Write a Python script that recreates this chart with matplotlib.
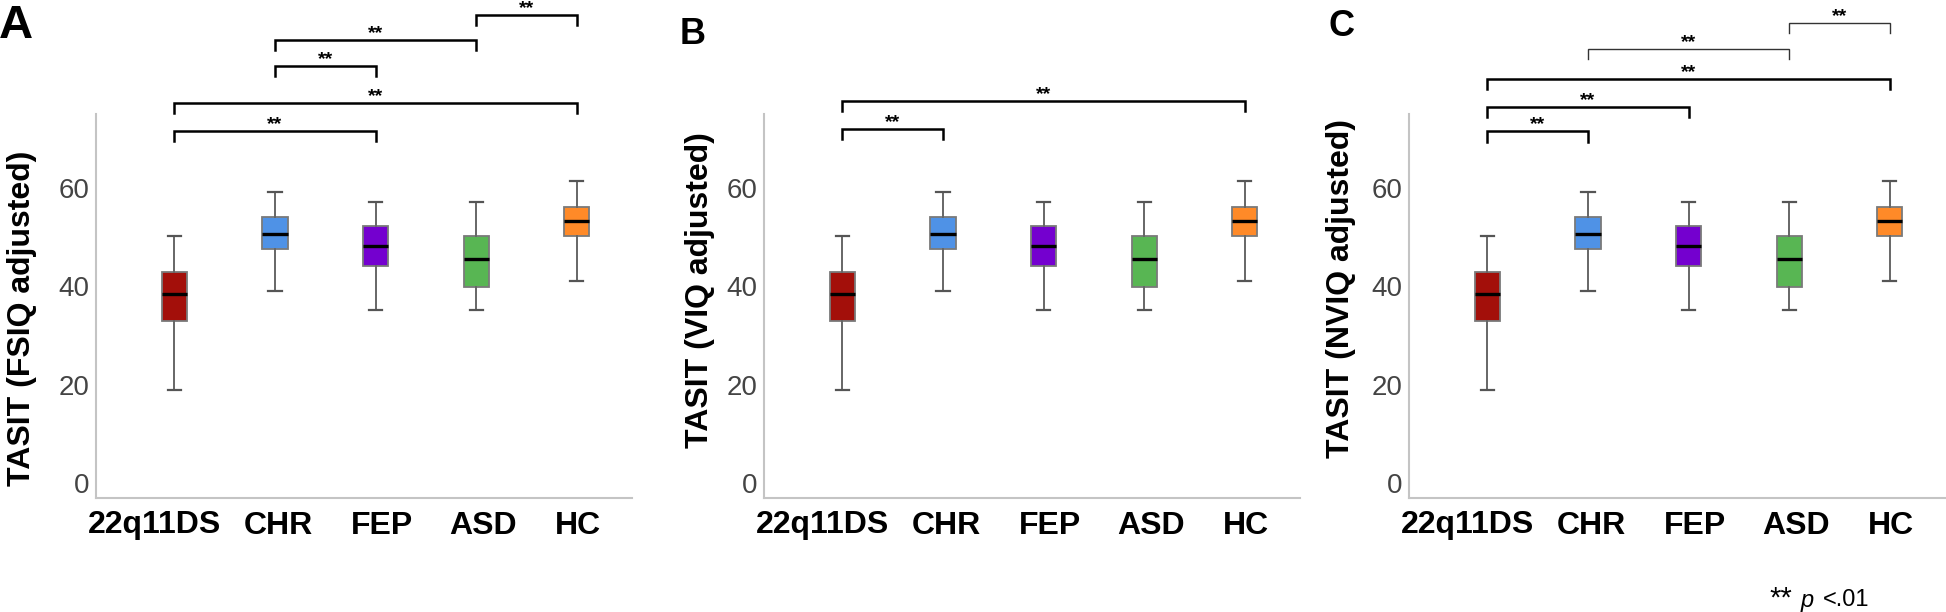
import matplotlib
matplotlib.use('Agg')
import matplotlib.pyplot as plt
from matplotlib.transforms import ScaledTranslation

plt.rcParams['font.family'] = ['Liberation Sans', 'DejaVu Sans']
plt.rcParams['mathtext.fontset'] = 'custom'
plt.rcParams['mathtext.it'] = 'Liberation Sans:italic'
plt.rcParams['mathtext.rm'] = 'Liberation Sans'

W, H = 1946, 612
DPI = 100

groups = ['22q11DS', 'CHR', 'FEP', 'ASD', 'HC']
box_colors = ['#A30F0A', '#4F92E6', '#7400CF', '#58B653', '#FF8A28']
yticks = [0, 20, 40, 60]

# Panel A: TASIT (FSIQ adjusted)
fsiq_whislo = [19.0, 39.0, 35.1, 35.1, 41.0]
fsiq_q1 = [33.0, 47.6, 44.1, 39.9, 50.2]
fsiq_med = [38.5, 50.7, 48.2, 45.6, 53.2]
fsiq_q3 = [43.0, 54.0, 52.2, 50.2, 56.1]
fsiq_whishi = [50.2, 59.1, 57.2, 57.2, 61.3]

# Panel B: TASIT (VIQ adjusted)
viq_whislo = [19.0, 39.0, 35.1, 35.1, 41.0]
viq_q1 = [33.0, 47.6, 44.1, 39.9, 50.2]
viq_med = [38.5, 50.7, 48.2, 45.6, 53.2]
viq_q3 = [43.0, 54.0, 52.2, 50.2, 56.1]
viq_whishi = [50.2, 59.1, 57.2, 57.2, 61.3]

# Panel C: TASIT (NVIQ adjusted)
nviq_whislo = [19.0, 39.0, 35.1, 35.1, 41.0]
nviq_q1 = [33.0, 47.6, 44.1, 39.9, 50.2]
nviq_med = [38.5, 50.7, 48.2, 45.6, 53.2]
nviq_q3 = [43.0, 54.0, 52.2, 50.2, 56.1]
nviq_whishi = [50.2, 59.1, 57.2, 57.2, 61.3]

# significance brackets: (group i, group j, bracket height, thick line)
fsiq_sig = [(3, 4, 95.1, True), (1, 3, 90.0, True), (1, 2, 84.8, True),
            (0, 4, 77.3, True), (0, 2, 71.6, True)]
viq_sig = [(0, 4, 77.7, True), (0, 1, 72.0, True)]
nviq_sig = [(3, 4, 93.5, False), (1, 3, 88.2, False), (0, 4, 82.1, True),
            (0, 2, 76.4, True), (0, 1, 71.5, True)]

panels = [
    dict(letter='A', ylabel='TASIT (FSIQ adjusted)',
         stats=(fsiq_whislo, fsiq_q1, fsiq_med, fsiq_q3, fsiq_whishi), sig=fsiq_sig,
         ax_left=96, letter_xy=(16, 26), letter_size=34, ylab_xy=(22, 318)),
    dict(letter='B', ylabel='TASIT (VIQ adjusted)',
         stats=(viq_whislo, viq_q1, viq_med, viq_q3, viq_whishi), sig=viq_sig,
         ax_left=764, letter_xy=(693, 34), letter_size=26, ylab_xy=(700, 290)),
    dict(letter='C', ylabel='TASIT (NVIQ adjusted)',
         stats=(nviq_whislo, nviq_q1, nviq_med, nviq_q3, nviq_whishi), sig=nviq_sig,
         ax_left=1409, letter_xy=(1341, 27), letter_size=26, ylab_xy=(1341, 289)),
]

fig = plt.figure(figsize=(W / DPI, H / DPI), dpi=DPI)

ax_w = 536
ax_bottom = 498
ax_top = 114
label_dx = [-20, 3, 6, 7, 1]

for p in panels:
    ax = fig.add_axes([p['ax_left'] / W, (H - ax_bottom) / H, ax_w / W, (ax_bottom - ax_top) / H])
    wl, q1, med, q3, wh = p['stats']
    stats = []
    for k in range(len(groups)):
        stats.append(dict(whislo=wl[k], q1=q1[k], med=med[k], q3=q3[k], whishi=wh[k], fliers=[]))
    positions = list(range(len(groups)))
    bp = ax.bxp(stats, positions=positions, widths=0.25, capwidths=0.13,
                patch_artist=True, showfliers=False,
                boxprops=dict(edgecolor='#7a7a7a', linewidth=1.3),
                medianprops=dict(color='black', linewidth=2.4),
                whiskerprops=dict(color='#666666', linewidth=1.4),
                capprops=dict(color='#555555', linewidth=1.6))
    for patch, c in zip(bp['boxes'], box_colors):
        patch.set_facecolor(c)

    ax.set_xlim(-0.78, 4.55)
    ax.set_ylim(-3, 75)
    ax.set_yticks(yticks)
    ax.set_yticklabels([str(v) for v in yticks])
    ax.set_xticks(positions)
    ax.set_xticklabels(groups)
    ax.tick_params(axis='y', length=0, pad=5, labelsize=20, labelcolor='#444444')
    ax.tick_params(axis='x', length=0, pad=9, labelsize=23)
    for lab in ax.get_xticklabels():
        lab.set_fontweight('bold')
    for lab, dx in zip(ax.get_xticklabels(), label_dx):
        lab.set_transform(lab.get_transform() + ScaledTranslation(dx / DPI, 0, fig.dpi_scale_trans))
    for s in ['top', 'right']:
        ax.spines[s].set_visible(False)
    for s in ['left', 'bottom']:
        ax.spines[s].set_color('#c4c4c4')
        ax.spines[s].set_linewidth(1.5)

    leg = 2.1
    for i, j, y, thick in p['sig']:
        lw = 1.8 if thick else 1.0
        col = 'black' if thick else '#333333'
        ax.plot([i, i, j, j], [y - leg, y, y, y - leg], color=col, lw=lw,
                clip_on=False, solid_joinstyle='miter')
        ax.text((i + j) / 2, y + 0.4, '**', ha='center', va='baseline',
                fontsize=14, fontweight='bold', clip_on=False)

    fig.text(p['letter_xy'][0] / W, 1 - p['letter_xy'][1] / H, p['letter'],
             ha='center', va='center', fontsize=p['letter_size'], fontweight='bold')
    fig.text(p['ylab_xy'][0] / W, 1 - p['ylab_xy'][1] / H, p['ylabel'],
             ha='center', va='center', rotation=90, fontsize=23, fontweight='bold')

# footnote
fy = 1 - 606.5 / H
fig.text(1769 / W, fy, '**', ha='left', va='baseline', fontsize=21)
fig.text(1800 / W, fy, r'$p$', ha='left', va='baseline', fontsize=17)
fig.text(1823 / W, fy, '<.01', ha='left', va='baseline', fontsize=17)

fig.savefig('out.png', dpi=DPI)
